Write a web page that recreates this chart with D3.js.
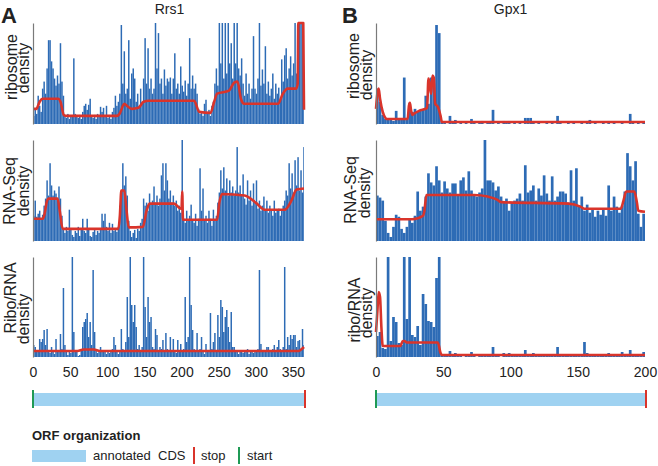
<!DOCTYPE html>
<html><head><meta charset="utf-8">
<script src="https://cdn.jsdelivr.net/npm/d3@7"></script>
<style>body{margin:0;background:#fff}text{font-family:"Liberation Sans",Arial,sans-serif;fill:#222}</style>
</head><body>
<svg id="c" width="658" height="466"></svg>
<script>
// ---------------- DATA ----------------
const genes = ["Rrs1", "Gpx1"];
const panelLetters = ["A", "B"];
const codonsA = 365, codonsB = 200, binCodons = 2;
const ticksA = [0, 50, 100, 150, 200, 250, 300, 350];
const ticksB = [0, 50, 100, 150, 200];
// relative density, % of panel height, one value per 2-codon bin
const aRibo = [8,14,10,28,18,12,
 35,42,30,55,83,83,62,55,45,38,48,40,80,42,28,
 8,6,10,5,8,9,65,10,7,6,9,5,12,18,20,14,19,25,8,6,9,5,10,8,17,12,16,8,18,6,9,5,12,16,28,18,22,30,
 98,40,72,30,35,
 83,25,50,55,45,22,30,18,35,20,45,
 85,40,75,35,45,30,35,100,55,90,40,45,30,54,38,45,42,46,30,45,70,35,40,30,57,38,32,43,28,40,85,35,48,35,40,30,
 15,10,12,8,20,24,10,14,8,18,22,
 40,55,38,100,60,100,45,100,50,100,60,80,45,100,
 60,100,55,48,65,
 40,28,50,30,40,25,35,87,35,30,45,100,38,54,40,77,30,42,28,35,50,25,40,30,36,22,64,
 42,68,75,45,55,67,48,60,100,50,90,
 100,100,100,40];
const aRiboFit = [[0,15],[4.5,15],[9,22],[12.6,25],[34,25],[37,22],[41.5,9],[45,8],[113,8],[116.5,10],[123,20],[126.5,18],[133,15],[142,16],[149,22],[156,23],[217,23],[224,12],[239,11],[244,22],[248,30],[264,33],[271,41],[275.5,42],[280,25],[284.5,20],[330,20],[336.5,30],[343,35],[354.5,35],[356.5,40],[357.3,150],[364,150],[365,14]];
const aRna = [25,40,24,27,30,22,26,
 35,42,60,45,77,55,45,50,47,40,54,42,
 25,12,8,14,10,31,12,6,4,10,8,14,5,12,22,10,8,22,12,5,4,9,12,6,10,8,12,27,20,27,14,10,18,8,17,10,12,9,14,
 35,50,77,55,64,45,20,
 10,4,8,11,3,12,10,18,22,42,
 35,38,30,47,36,40,54,38,45,35,42,65,77,50,77,60,42,50,38,45,35,40,30,35,28,100,
 22,18,30,20,25,36,20,18,27,15,22,72,30,52,20,25,18,30,22,15,31,20,25,
 38,48,70,52,73,50,62,45,60,48,54,45,50,93,48,55,45,66,
 42,36,60,40,50,35,57,38,60,32,40,30,35,44,30,40,28,35,30,25,40,28,30,32,25,30,35,40,
 50,45,77,52,67,48,80,55,83,50,70,48,93];
const aRnaFit = [[0,22],[13,22],[15,25],[19,40],[21,42],[33,42],[36,30],[40,12],[115,12],[117,25],[119,50],[123,50],[126,30],[129,13.5],[148,14],[153,30],[157,37],[190,37],[199,32],[200,32],[201,49],[202,21],[248,21],[251,38],[255,46.5],[285,45],[300,38],[312,31],[339,31],[348,40],[355,51],[365,52]];
const aRatio = [12,10,5,6,18,15,18,27,12,28, 6,4,10,5,3,18,6,5,23,8, 69,12,5,2,6,4,100,25,5,6,
 1,2,8,30,35,38,44,20,35,12, 87,25,8,4,6,10,5,7,5,3, 6,4,5,8,20,12,5,3,6,28,
 8,5,15,60,20,100,52,35,52,30, 8,12,6,10,100,50,20,60,35,40, 10,8,28,22,6,10,8,17,5,24,
 8,6,20,5,18,6,4,17,5,13, 6,8,60,15,20,100,52,27,8,5, 24,6,8,20,5,3,13,5,6,44,
 8,15,24,6,42,20,57,50,25,40, 47,30,15,45,10,10,5,6,3,5, 6,4,7,5,8,3,6,5,4,6,
 5,8,87,13,6,5,7,10,10,6, 5,8,12,6,10,17,8,6,10,90, 8,20,12,22,18,22,22,10,16,17, 8,28,12];
const aRatioFit = [[0,6],[60,6],[68,7.5],[82,7.5],[90,6],[358,6],[362,8],[365,10]];

const bRibo = [35,22,9,5,4,5,3,13,4,5, 46,6,21,12,15,12,13,14,28,20, 46,40,98,90,3,1,0,8,1,4,
 0,1,0,1,0,5,1,0,1,3, 0,1,3,14,0,1,0,3,1,3, 0,1,0,1,0,6,6,6,1,0, 1,0,0,1,0,1,0,8,1,0,
 0,1,0,1,0,0,1,0,3,4, 0,1,0,0,1,0,3,0,1,0, 0,1,0,0,10,1,0,1,0,1];
const bRiboFit = [[0,15],[1,30],[2,35],[3,25],[5,12],[7,6],[8,5],[23.5,5],[24.5,18],[25.2,21],[26,14],[27,9],[28,10],[32,13],[38,16],[39,45],[40,38],[41,30],[42,48],[43,46],[44,20],[46,17],[48,8],[49,2],[200,2]];
const bRna = [45,43,40,20,8,4,14,26,24,12, 8,14,22,18,25,49,30,34,44,67, 58,55,74,60,48,59,52,48,57,57,
 45,60,63,50,69,50,46,44,48,52, 100,60,60,58,50,54,44,38,42,30, 38,40,42,47,40,75,48,50,55,40,
 52,45,65,47,40,64,40,44,49,49, 47,38,70,40,72,35,44,30,36,28, 32,24,30,26,31,25,55,30,44,34,
 28,35,49,87,74,60,79,27,14,27];
const bRnaFit = [[0,21.5],[27,21.5],[35,25],[36,30],[37.5,45.5],[73,45.5],[83,44],[90,41],[93,38.5],[143,37],[152,34],[155,32],[182,32],[184,40],[186,49],[192,49],[194,38],[195,30],[200,29]];
const bRatio = [21,25,9,8,100,16,40,35,14,12, 100,38,100,22,20,31,12,63,53,36, 35,30,79,100,3,1,1,6,1,4,
 1,1,0,1,1,5,1,0,1,1, 1,1,1,10,1,1,0,4,1,4, 1,1,1,1,1,7,1,1,4,1, 1,1,1,1,1,1,1,10,1,1,
 1,1,1,1,1,1,1,15,4,3, 1,1,1,1,1,1,4,1,1,1, 1,5,1,1,7,1,1,1,1,5];
const bRatioFit = [[0,25],[1,45],[2,65],[3,60],[4,30],[5,11],[18,11],[20,16],[21,16],[23,14.5],[46,14.5],[48,4],[49,2],[200,2]];

const rowLabelsA = [["ribosome","density"],["RNA-Seq","density"],["Ribo/RNA","density"]];
const rowLabelsB = [["ribosome","density"],["RNA-Seq","density"],["ribo/RNA","density"]];
const legendTitle = "ORF organization";
const legendItems = ["annotated\u00A0 CDS", "stop", "start"];

// ---------------- DRAW ----------------
const BLUE = "#2d6bb5", RED = "#d9342b", GREEN = "#1f9a55", LIGHT = "#9fd2f1", AXIS = "#7a7a7a";
const svg = d3.select("#c");
const rows = [[23,124],[140,241],[257,357]];
const xA = d3.scaleLinear().domain([0, codonsA]).range([33, 304]);
const xB = d3.scaleLinear().domain([0, codonsB]).range([376, 645]);

function panel(x, n, row, bars, fit) {
  const y = d3.scaleLinear().domain([0, 100]).range([rows[row][1], rows[row][0]]).clamp(true);
  const g = svg.append("g");
  g.selectAll("rect").data(bars).join("rect")
    .attr("x", (d, i) => x(i * binCodons))
    .attr("width", (d, i) => x(Math.min((i + 1) * binCodons, n)) - x(i * binCodons))
    .attr("y", d => y(d))
    .attr("height", d => y(0) - y(d))
    .attr("fill", BLUE);
  g.append("path").datum(fit)
    .attr("d", d3.line().x(d => x(d[0])).y(d => y(d[1])).curve(d3.curveMonotoneX))
    .attr("fill", "none").attr("stroke", RED).attr("stroke-width", 2.6).attr("stroke-linejoin", "round");
  const ax = svg.append("g").attr("transform", `translate(${x(0)},0)`)
    .call(d3.axisLeft(y).tickValues([]).tickSizeOuter(0));
  ax.select(".domain").attr("stroke", AXIS).attr("stroke-width", 1.2);
}
panel(xA, codonsA, 0, aRibo, aRiboFit);
panel(xA, codonsA, 1, aRna, aRnaFit);
panel(xA, codonsA, 2, aRatio, aRatioFit);
panel(xB, codonsB, 0, bRibo, bRiboFit);
panel(xB, codonsB, 1, bRna, bRnaFit);
panel(xB, codonsB, 2, bRatio, bRatioFit);

function xAxis(x, ticks) {
  const g = svg.append("g").attr("transform", "translate(0,357)")
    .call(d3.axisBottom(x).tickValues(ticks).tickSize(0).tickPadding(10));
  g.select(".domain").remove();
  g.selectAll("text").attr("font-size", 14).style("font-family", '"Liberation Sans",Arial,sans-serif').attr("fill", "#222");
}
xAxis(xA, ticksA);
xAxis(xB, ticksB);

// titles & letters
svg.append("text").attr("x", (xA(0) + xA(codonsA)) / 2 + 1).attr("y", 14).attr("text-anchor", "middle").attr("font-size", 14).text(genes[0]);
svg.append("text").attr("x", (xB(0) + xB(codonsB)) / 2).attr("y", 14).attr("text-anchor", "middle").attr("font-size", 14).text(genes[1]);
svg.append("text").attr("x", 1).attr("y", 23).attr("font-size", 22).attr("font-weight", "bold").text(panelLetters[0]);
svg.append("text").attr("x", 342).attr("y", 23).attr("font-size", 22).attr("font-weight", "bold").text(panelLetters[1]);

// row labels: [baselineX, centerY] for each line
const labPosA = [[[17,67],[29,68]],[[14.5,191],[29,191]],[[16,298],[29,319]]];
const labPosB = [[[359,66],[372,75]],[[356,190],[370,193]],[[360,310],[372,313]]];
function rowLabels(labels, pos) {
  labels.forEach((pair, r) => pair.forEach((t, k) => {
    const [bx, cy] = pos[r][k];
    svg.append("text").attr("transform", `translate(${bx},${cy}) rotate(-90)`)
      .attr("text-anchor", "middle").attr("font-size", 16).text(t);
  }));
}
rowLabels(rowLabelsA, labPosA);
rowLabels(rowLabelsB, labPosB);

// ORF organization bars
function orf(x, n) {
  svg.append("rect").attr("x", x(0)).attr("y", 393).attr("width", x(n) - x(0) + 1).attr("height", 13).attr("fill", LIGHT);
  svg.append("rect").attr("x", x(0) - 1).attr("y", 390).attr("width", 2).attr("height", 18).attr("fill", GREEN);
  svg.append("rect").attr("x", x(n)).attr("y", 390).attr("width", 2).attr("height", 18).attr("fill", RED);
}
orf(xA, codonsA);
orf(xB, codonsB);

// legend
svg.append("text").attr("x", 32).attr("y", 440).attr("font-size", 13).attr("font-weight", "bold").text(legendTitle);
svg.append("rect").attr("x", 32).attr("y", 450).attr("width", 54).attr("height", 12).attr("fill", LIGHT);
svg.append("text").attr("x", 93).attr("y", 460).attr("font-size", 13).text(legendItems[0]);
svg.append("rect").attr("x", 193).attr("y", 447).attr("width", 2).attr("height", 17).attr("fill", RED);
svg.append("text").attr("x", 201).attr("y", 460).attr("font-size", 13).text(legendItems[1]);
svg.append("rect").attr("x", 238).attr("y", 447).attr("width", 2).attr("height", 17).attr("fill", GREEN);
svg.append("text").attr("x", 247).attr("y", 460).attr("font-size", 13).text(legendItems[2]);
</script>
</body></html>
